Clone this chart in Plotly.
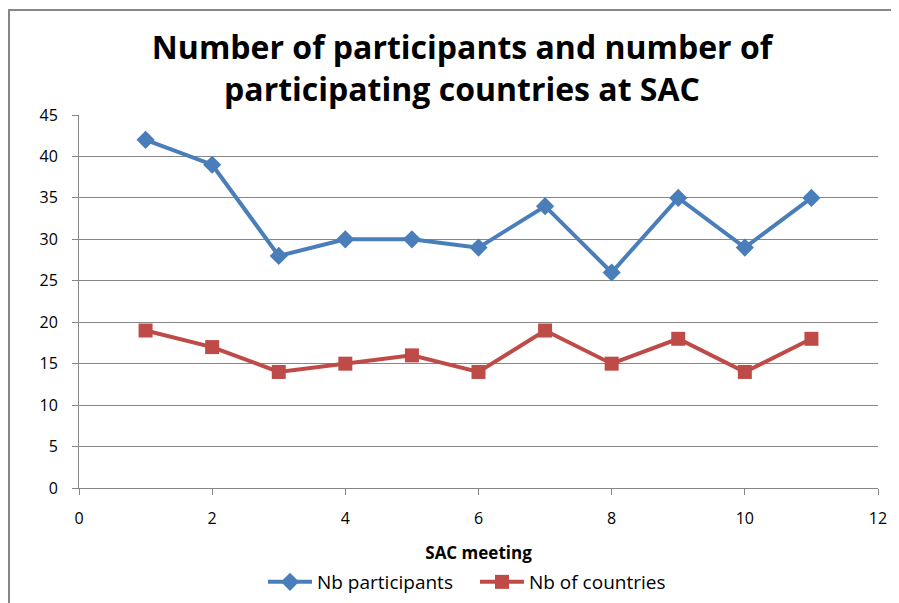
import plotly.graph_objects as go

meetings = [1, 2, 3, 4, 5, 6, 7, 8, 9, 10, 11]
nb_participants = [42, 39, 28, 30, 30, 29, 34, 26, 35, 29, 35]
nb_countries = [19, 17, 14, 15, 16, 14, 19, 15, 18, 14, 18]

x_ticks = [0, 2, 4, 6, 8, 10, 12]
y_ticks = [0, 5, 10, 15, 20, 25, 30, 35, 40, 45]

BLUE = "#4A7EBB"
RED = "#BE4B48"
GRID = "#868686"
FONT = "Open Sans"

# page has an 8px body margin; work in reference pixel coords and shift
OFF = 8
W, H = 899 - OFF, 603 - OFF
L = 79 - OFF
R = W - (878 - OFF)
T = 115 - OFF
B = H - (488 - OFF)
pw = W - L - R
ph = H - T - B


def px_x(p):
    return (p - OFF - L) / pw


def px_y(p):
    return (H - B - (p - OFF)) / ph


fig = go.Figure()
fig.add_trace(go.Scatter(
    x=meetings, y=nb_participants, mode="lines+markers", name="Nb participants",
    line=dict(color=BLUE, width=4),
    marker=dict(symbol="diamond", size=14, color=BLUE),
))
fig.add_trace(go.Scatter(
    x=meetings, y=nb_countries, mode="lines+markers", name="Nb of countries",
    line=dict(color=RED, width=4),
    marker=dict(symbol="square", size=14, color=RED),
))

fig.update_layout(
    width=W, height=H,
    margin=dict(l=L, r=R, t=T, b=B, autoexpand=False),
    paper_bgcolor="white", plot_bgcolor="white",
    font=dict(family=FONT, color="#000000", size=15),
    title=dict(
        text="Number of participants and number of<br>participating countries at SAC",
        x=(462 - OFF) / W, xanchor="center", y=1 - (59 - OFF) / H, yanchor="middle",
        font=dict(family=FONT, size=32, color="#000000", weight="bold"),
    ),
    showlegend=True,
    legend=dict(
        orientation="h", x=px_x(475), xanchor="center", y=px_y(582), yanchor="middle",
        font=dict(family=FONT, size=19, color="#000000"),
        bgcolor="rgba(0,0,0,0)", itemwidth=44, entrywidth=153, entrywidthmode="pixels",
    ),
    xaxis=dict(
        range=[0, 12], tickvals=x_ticks, ticktext=[str(v) for v in x_ticks],
        showgrid=False, zeroline=False, showline=True, linecolor=GRID, linewidth=1,
        ticks="outside", ticklen=6, tickcolor=GRID, tickfont=dict(size=16),
        ticklabelstandoff=10, automargin=False,
        title=dict(text="<b>SAC meeting</b>", font=dict(size=17), standoff=18),
    ),
    yaxis=dict(
        range=[0, 45], tickvals=y_ticks, ticktext=[str(v) for v in y_ticks],
        showgrid=True, gridcolor=GRID, gridwidth=1, zeroline=False,
        showline=True, linecolor=GRID, linewidth=1,
        ticks="outside", ticklen=6, tickcolor=GRID, tickfont=dict(size=16),
        ticklabelstandoff=11, automargin=False,
    ),
    shapes=[dict(
        type="rect", xref="paper", yref="paper",
        x0=px_x(9), x1=px_x(915), y0=px_y(620), y1=px_y(10),
        line=dict(color=GRID, width=2), fillcolor="rgba(0,0,0,0)", layer="below",
    )],
)

fig.write_html("out.html")
